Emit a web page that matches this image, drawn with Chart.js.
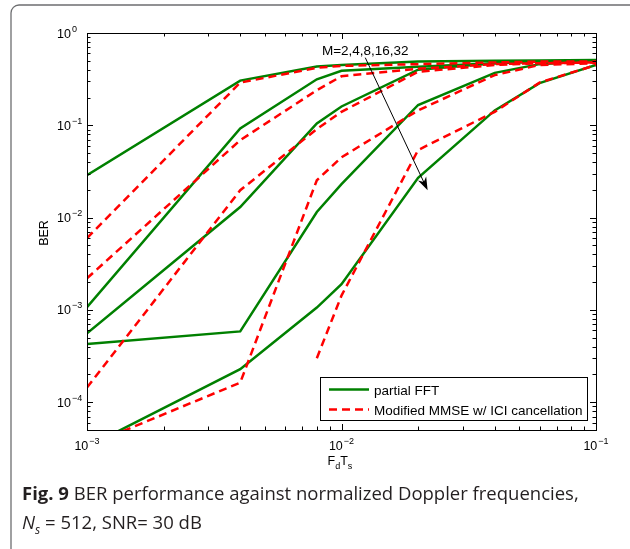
<!DOCTYPE html>
<html>
<head>
<meta charset="utf-8">
<script src="https://cdn.jsdelivr.net/npm/chart.js@4.4.1/dist/chart.umd.min.js"></script>
<style>
    html, body { margin: 0; padding: 0; background: #fff; }
    #wrap { position: relative; width: 630px; height: 549px; overflow: hidden; }
    #caption {
        position: absolute; left: 22px; top: 478px;
        font-family: "Open Sans", "Lato", sans-serif; font-size: 18.5px; line-height: 29px;
        color: #231f20; white-space: nowrap;
    }
    #caption b { font-weight: bold; }
</style>
</head>
<body>
<div id="wrap">
    <canvas id="berChart" width="630" height="549"></canvas>
    <div id="caption"><b>Fig. 9</b> BER performance against normalized Doppler frequencies,<br><i>N<sub style="font-size:12px">s</sub></i>&nbsp;=&nbsp;512, SNR= 30 dB</div>
</div>
<script>
// normalized Doppler frequency F_d T_s
const fdTs = [0.001, 0.004, 0.008, 0.01, 0.02, 0.04, 0.06, 0.1];
const mValues = [2, 4, 8, 16, 32];

// BER, partial FFT (solid green)
const fftM2  = [0.0288, 0.305, 0.433, 0.45, 0.49, 0.50, 0.505, 0.51];
const fftM4  = [1.07e-3, 0.0927, 0.315, 0.39, 0.43, 0.47, 0.49, 0.50];
const fftM8  = [5.57e-4, 0.013, 0.105, 0.16, 0.40, 0.47, 0.49, 0.50];
const fftM16 = [4.27e-4, 5.85e-4, 0.0115, 0.023, 0.166, 0.37, 0.46, 0.50];
const fftM32 = [3.27e-5, 2.28e-4, 1.06e-3, 1.9e-3, 0.027, 0.145, 0.286, 0.45];

// BER, modified MMSE w/ ICI cancellation (dashed red)
const mmseM2  = [6.0e-3, 0.29, 0.42, 0.44, 0.46, 0.48, 0.49, 0.49];
const mmseM4  = [2.2e-3, 0.069, 0.24, 0.34, 0.41, 0.46, 0.47, 0.48];
const mmseM8  = [1.44e-4, 0.0198, 0.091, 0.14, 0.38, 0.45, 0.47, 0.48];
const mmseM16 = [3.35e-5, 1.63e-4, 0.0254, 0.045, 0.145, 0.35, 0.45, 0.47];
const mmseM32 = [null, null, 3.0e-4, 1.43e-3, 0.054, 0.14, 0.29, 0.45];

// axis ticks (powers of ten)
const xTickExps = [-3, -2, -1];
const yTickExps = [0, -1, -2, -3, -4];
const xRange = [1e-3, 1e-1];
const yRange = [5e-5, 1];

const legendLabels = ['partial FFT', 'Modified MMSE w/ ICI cancellation'];
const arrowLabel = 'M=2,4,8,16,32';
// arrow from / to, in data units
const arrowFrom = { x: 0.0124, y: 0.54 };
const arrowTo = { x: 0.0218, y: 0.0198 };
const arrowText = { x: 0.0124, y: 0.63 };

const GREEN = 'rgb(0,128,0)';
const RED = 'rgb(255,0,0)';
const FONT = '"Liberation Sans", Arial, sans-serif';

const fftSeries = [fftM2, fftM4, fftM8, fftM16, fftM32];
const mmseSeries = [mmseM2, mmseM4, mmseM8, mmseM16, mmseM32];

function toPoints(arr) {
    return fdTs.map((x, i) => ({ x: x, y: arr[i] }));
}

const datasets = [];
mValues.forEach((m, i) => {
    datasets.push({
        label: legendLabels[0] + ' M=' + m,
        data: toPoints(fftSeries[i]),
        borderColor: GREEN,
        borderWidth: 2.5,
        pointRadius: 0,
        tension: 0,
        clip: 0,
        order: 2
    });
    datasets.push({
        label: legendLabels[1] + ' M=' + m,
        data: toPoints(mmseSeries[i]),
        borderColor: RED,
        borderWidth: 2.5,
        borderDash: [8, 5],
        pointRadius: 0,
        tension: 0,
        clip: 0,
        order: 1
    });
});

function supLabel(ctx, exp, x, y, align) {
    // "10" with a raised exponent; align 'left' (x = start) or 'center'
    const base = '10';
    const sup = exp < 0 ? '\u2212' + Math.abs(exp) : String(exp);
    ctx.font = '12.5px ' + FONT;
    const wb = ctx.measureText(base).width;
    ctx.font = '9px ' + FONT;
    const ws = ctx.measureText(sup).width;
    const x0 = align === 'center' ? x - (wb + ws + 1) / 2 : x;
    ctx.textAlign = 'left';
    ctx.textBaseline = 'alphabetic';
    ctx.font = '12.5px ' + FONT;
    ctx.fillText(base, x0, y);
    ctx.font = '9px ' + FONT;
    ctx.fillText(sup, x0 + wb + 1, y - 6);
}

const decorPlugin = {
    id: 'decor',
    afterDraw(chart) {
        const ctx = chart.ctx;
        const area = chart.chartArea;
        const xs = chart.scales.x;
        const ys = chart.scales.y;
        ctx.save();

        // figure frame
        ctx.strokeStyle = '#6d6e70';
        ctx.lineWidth = 1.3;
        ctx.beginPath();
        ctx.roundRect(11, 5, 640, 600, 8);
        ctx.stroke();

        // axes box
        ctx.strokeStyle = '#000';
        ctx.lineWidth = 1;
        ctx.strokeRect(area.left + 0.5, area.top + 0.5, area.right - area.left, area.bottom - area.top);

        // log ticks, inside, on all four sides
        ctx.beginPath();
        for (let d = -3; d <= -1; d++) {
            for (let k = 1; k <= 9; k++) {
                const v = k * Math.pow(10, d);
                if (v < xRange[0] * 0.999 || v > xRange[1] * 1.001) continue;
                const px = Math.round(xs.getPixelForValue(v)) + 0.5;
                const len = k === 1 ? 6 : 3.5;
                ctx.moveTo(px, area.bottom); ctx.lineTo(px, area.bottom - len);
                ctx.moveTo(px, area.top); ctx.lineTo(px, area.top + len);
            }
        }
        for (let d = -5; d <= 0; d++) {
            for (let k = 1; k <= 9; k++) {
                const v = k * Math.pow(10, d);
                if (v < yRange[0] * 0.999 || v > yRange[1] * 1.001) continue;
                const py = Math.round(ys.getPixelForValue(v)) + 0.5;
                const len = k === 1 ? 6 : 3.5;
                ctx.moveTo(area.left, py); ctx.lineTo(area.left + len, py);
                ctx.moveTo(area.right, py); ctx.lineTo(area.right - len, py);
            }
        }
        ctx.stroke();

        // tick labels
        ctx.fillStyle = '#000';
        yTickExps.forEach(e => {
            const py = ys.getPixelForValue(Math.pow(10, e));
            supLabel(ctx, e, 57, py + 4.5, 'left');
        });
        xTickExps.forEach(e => {
            const px = xs.getPixelForValue(Math.pow(10, e));
            supLabel(ctx, e, px, area.bottom + 19.5, 'center');
        });

        // axis titles
        ctx.textBaseline = 'alphabetic';
        ctx.textAlign = 'left';
        const tx = xs.getPixelForValue(0.01) - 14;
        let w = 0;
        [['F', 12.5, 0], ['d', 9, 4], ['T', 12.5, 0], ['s', 9, 4]].forEach(p => {
            ctx.font = p[1] + 'px ' + FONT;
            ctx.fillText(p[0], tx + w, 465 + p[2]);
            w += ctx.measureText(p[0]).width;
        });

        ctx.save();
        ctx.translate(48, 233);
        ctx.rotate(-Math.PI / 2);
        ctx.font = '12.5px ' + FONT;
        ctx.textAlign = 'center';
        ctx.fillText('BER', 0, 0);
        ctx.restore();

        // legend
        const lx = 320, ly = 377, lw = 267, lh = 43;
        ctx.fillStyle = '#fff';
        ctx.fillRect(lx, ly, lw, lh);
        ctx.strokeStyle = '#000';
        ctx.lineWidth = 1;
        ctx.strokeRect(lx + 0.5, ly + 0.5, lw, lh);
        ctx.lineWidth = 2.5;
        ctx.strokeStyle = GREEN;
        ctx.beginPath(); ctx.moveTo(lx + 9, ly + 12.5); ctx.lineTo(lx + 49, ly + 12.5); ctx.stroke();
        ctx.strokeStyle = RED;
        ctx.setLineDash([8, 5]);
        ctx.beginPath(); ctx.moveTo(lx + 9, ly + 32.5); ctx.lineTo(lx + 49, ly + 32.5); ctx.stroke();
        ctx.setLineDash([]);
        ctx.fillStyle = '#000';
        ctx.font = '13.5px ' + FONT;
        ctx.textAlign = 'left';
        ctx.fillText(legendLabels[0], lx + 54, ly + 17.5);
        ctx.fillText(legendLabels[1], lx + 54, ly + 37.5);

        // arrow annotation
        const ax0 = xs.getPixelForValue(arrowFrom.x), ay0 = ys.getPixelForValue(arrowFrom.y);
        const ax1 = xs.getPixelForValue(arrowTo.x), ay1 = ys.getPixelForValue(arrowTo.y);
        const ang = Math.atan2(ay1 - ay0, ax1 - ax0);
        const c = Math.cos(ang), s = Math.sin(ang);
        ctx.strokeStyle = '#000';
        ctx.lineWidth = 1;
        ctx.beginPath(); ctx.moveTo(ax0, ay0); ctx.lineTo(ax1 - 8 * c, ay1 - 8 * s); ctx.stroke();
        ctx.beginPath();
        ctx.moveTo(ax1, ay1);
        ctx.lineTo(ax1 - 13 * c + 4.5 * s, ay1 - 13 * s - 4.5 * c);
        ctx.lineTo(ax1 - 9 * c, ay1 - 9 * s);
        ctx.lineTo(ax1 - 13 * c - 4.5 * s, ay1 - 13 * s + 4.5 * c);
        ctx.closePath();
        ctx.fillStyle = '#000';
        ctx.fill();
        ctx.font = '13.5px ' + FONT;
        ctx.textAlign = 'center';
        ctx.textBaseline = 'middle';
        ctx.fillText(arrowLabel, xs.getPixelForValue(arrowText.x), ys.getPixelForValue(arrowText.y));

        ctx.restore();
    }
};

document.addEventListener('DOMContentLoaded', function () {
    const ctx = document.getElementById('berChart');
    new Chart(ctx, {
        type: 'line',
        data: { datasets: datasets },
        options: {
            responsive: false,
            animation: false,
            devicePixelRatio: 1,
            layout: { padding: { left: 87, top: 33, right: 34, bottom: 119 } },
            plugins: {
                legend: { display: false },
                tooltip: { enabled: false }
            },
            scales: {
                x: { type: 'logarithmic', min: xRange[0], max: xRange[1], display: false },
                y: { type: 'logarithmic', min: yRange[0], max: yRange[1], display: false }
            }
        },
        plugins: [decorPlugin]
    });
});
</script>
</body>
</html>
